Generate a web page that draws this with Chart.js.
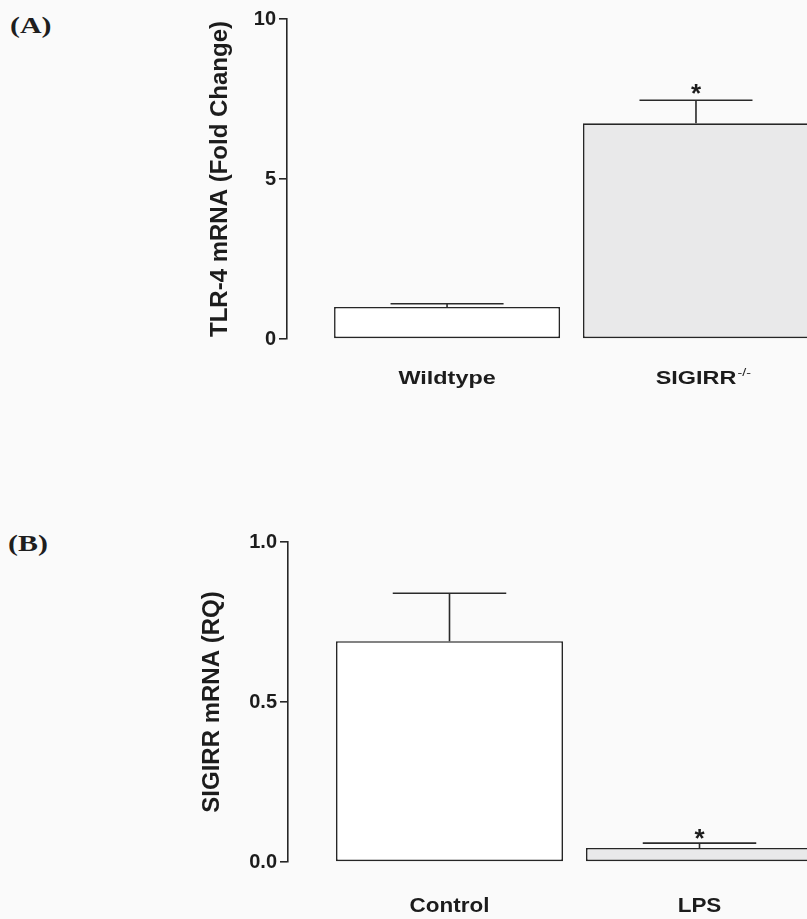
<!DOCTYPE html>
<html>
<head>
<meta charset="utf-8">
<script src="https://cdn.jsdelivr.net/npm/chart.js@4.4.1/dist/chart.umd.min.js"></script>
<style>
  html, body { margin: 0; padding: 0; background: #fafafa; width: 807px; height: 919px; overflow: hidden; }
  .panel { position: absolute; left: 0; width: 807px; }
  #wrapA { top: 0; height: 460px; }
  #wrapB { top: 460px; height: 459px; }
  .tag { position: absolute; font: bold 23px "Liberation Serif", "Times New Roman", serif; color: #1e1e1e;
         transform: scaleX(1.3); transform-origin: 0 0; line-height: 1; }
</style>
</head>
<body>
<div class="tag" style="left:10px; top:14px;">(A)</div>
<div class="tag" style="left:8px; top:532px;">(B)</div>
<div class="panel" id="wrapA"><canvas id="chartA" width="807" height="460"></canvas></div>
<div class="panel" id="wrapB"><canvas id="chartB" width="807" height="459"></canvas></div>

<script>
// Panel A: TLR-4 expression, wildtype vs SIGIRR knockout
const categoriesA   = ['Wildtype', 'SIGIRR'];
const superscriptsA = ['', '-/-'];
const valuesA       = [1.0, 6.74];
const errorsA       = [0.1, 0.72];
const significantA  = [false, true];
const yTicksA       = [0, 5, 10];

// Panel B: SIGIRR expression, control vs LPS
const categoriesB   = ['Control', 'LPS'];
const superscriptsB = ['', ''];
const valuesB       = [0.69, 0.044];
const errorsB       = [0.15, 0.015];
const significantB  = [false, true];
const yTicksB       = [0, 0.5, 1.0];

const INK = '#1c1c1c';
const SANS = "'Liberation Sans', Arial, sans-serif";

function makePanel(canvasId, p) {
  // upper error whiskers (half-bar-wide caps) and significance stars
  const errorBars = {
    id: 'errorBars',
    afterDatasetsDraw(chart) {
      const { ctx, scales: { y } } = chart;
      const meta = chart.getDatasetMeta(0);
      ctx.save();
      ctx.strokeStyle = '#2a2a2a';
      ctx.lineWidth = 1.6;
      meta.data.forEach((bar, i) => {
        const { x, y: yBar, width } = bar.getProps(['x', 'y', 'width'], true);
        const yTop = y.getPixelForValue(p.values[i] + p.errors[i]);
        const half = width / 4;
        ctx.beginPath();
        ctx.moveTo(x, yBar);
        ctx.lineTo(x, yTop);
        ctx.moveTo(x - half, yTop);
        ctx.lineTo(x + half, yTop);
        ctx.stroke();
        if (p.significant[i]) {
          ctx.fillStyle = INK;
          ctx.font = 'bold 26px ' + SANS;
          ctx.textAlign = 'center';
          ctx.textBaseline = 'alphabetic';
          ctx.fillText('*', x, yTop + p.starOffset);
        }
      });
      ctx.restore();
    }
  };

  // category names under the bars, with optional superscript
  const groupLabels = {
    id: 'groupLabels',
    afterDraw(chart) {
      const { ctx, chartArea, scales: { x } } = chart;
      p.categories.forEach((name, i) => {
        const cx = x.getPixelForValue(i + 1);
        ctx.save();
        ctx.translate(cx, chartArea.bottom + p.labelOffset);
        ctx.scale(p.labelStretch, 1);
        ctx.fillStyle = INK;
        ctx.font = 'bold ' + p.labelSize + 'px ' + SANS;
        ctx.textAlign = 'center';
        ctx.textBaseline = 'alphabetic';
        ctx.fillText(name, 0, 0);
        const sup = p.superscripts[i];
        if (sup) {
          const w = ctx.measureText(name).width;
          ctx.font = '11px ' + SANS;
          ctx.textAlign = 'left';
          ctx.fillText(sup, w / 2 + 1, -p.labelSize * 0.45);
        }
        ctx.restore();
      });
    }
  };

  return new Chart(document.getElementById(canvasId), {
    type: 'bar',
    data: {
      datasets: [{
        data: p.values.map((v, i) => ({ x: i + 1, y: v })),
        backgroundColor: ['#ffffff', '#e9e9ea'],
        borderColor: '#262626',
        borderWidth: 1.6,
        borderSkipped: false,
        barPercentage: 0.908,
        categoryPercentage: 1
      }]
    },
    options: {
      responsive: false,
      animation: false,
      layout: { padding: p.padding },
      plugins: { legend: { display: false }, tooltip: { enabled: false } },
      scales: {
        x: {
          type: 'linear',
          display: false,
          offset: false,
          min: p.xMin,
          max: p.xMax,
          afterBuildTicks: s => { s.ticks = p.categories.map((_, i) => ({ value: i + 1 })); }
        },
        y: {
          min: p.yTicks[0],
          max: p.yTicks[p.yTicks.length - 1],
          afterBuildTicks: s => { s.ticks = p.yTicks.map(v => ({ value: v })); },
          afterFit: s => { s.width = p.axisWidth; },
          border: { display: true, color: '#262626', width: 1.6 },
          grid: { display: true, drawOnChartArea: false, drawTicks: true, tickLength: 8, color: '#262626', lineWidth: 1.6 },
          ticks: {
            color: INK,
            padding: 3,
            font: { family: SANS, size: p.tickSize, weight: 'bold' },
            callback: v => Number(v).toFixed(p.decimals)
          },
          title: {
            display: true,
            text: p.yTitle,
            color: INK,
            padding: { top: 0, bottom: 0 },
            font: { family: SANS, size: 24, weight: 'bold' }
          }
        }
      }
    },
    plugins: [errorBars, groupLabels]
  });
}

makePanel('chartA', {
  categories: categoriesA, superscripts: superscriptsA, values: valuesA, errors: errorsA,
  significant: significantA, yTicks: yTicksA, decimals: 0,
  yTitle: 'TLR-4 mRNA (Fold Change)',
  padding: { left: 206, top: 19, right: 0, bottom: 121 },
  axisWidth: 81, xMin: 0.357, xMax: 2.446,
  tickSize: 20, labelSize: 18, labelStretch: 1.3, labelOffset: 45, starOffset: 2
});

makePanel('chartB', {
  categories: categoriesB, superscripts: superscriptsB, values: valuesB, errors: errorsB,
  significant: significantB, yTicks: yTicksB, decimals: 1,
  yTitle: 'SIGIRR mRNA (RQ)',
  padding: { left: 198, top: 82, right: 0, bottom: 57 },
  axisWidth: 90, xMin: 0.354, xMax: 2.43,
  tickSize: 20, labelSize: 21, labelStretch: 1.07, labelOffset: 50, starOffset: 4
});
</script>
</body>
</html>
